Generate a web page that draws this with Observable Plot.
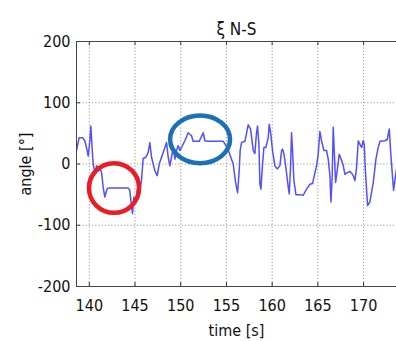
<!DOCTYPE html>
<html>
<head>
<meta charset="utf-8">
<script src="https://cdn.jsdelivr.net/npm/d3@7"></script>
<script src="https://cdn.jsdelivr.net/npm/@observablehq/plot@0.6"></script>
<style>
  html, body { margin: 0; padding: 0; background: #fff; }
  svg { display: block; }
</style>
</head>
<body>
<div id="chart"></div>
<script>
// ξ (N-S) orientation angle over time
const time = [
  138.60, 138.89, 139.26, 139.51, 139.69, 139.88, 140.06, 140.17, 140.28, 140.42,
  140.61, 140.79, 141.08, 141.34, 141.52, 141.70, 141.96, 142.25, 144.25, 144.43,
  144.62, 144.73, 144.87, 145.09, 145.35, 145.53, 145.71, 145.89, 146.19, 146.44,
  146.62, 146.81, 147.17, 147.43, 147.65, 147.90, 148.16, 148.45, 148.63, 148.81,
  148.99, 149.18, 149.36, 149.54, 149.72, 149.91, 150.09, 150.45, 150.82, 151.18,
  151.36, 152.02, 152.46, 152.64, 153.01, 154.65, 154.83, 155.19, 155.74, 156.00,
  156.22, 156.40, 156.50, 156.65, 157.02, 157.38, 157.64, 157.93, 158.11, 158.29,
  158.40, 158.55, 158.66, 158.77, 158.95, 159.10, 159.31, 159.57, 159.68, 159.86,
  160.04, 160.30, 160.55, 160.85, 161.03, 161.14, 161.28, 161.50, 161.76, 161.87,
  162.01, 162.12, 162.23, 162.38, 162.60, 163.03, 163.40, 163.76, 164.13, 164.42,
  164.68, 164.86, 165.04, 165.22, 165.40, 165.66, 165.95, 166.13, 166.32, 166.43,
  166.57, 166.68, 166.79, 166.94, 167.12, 167.34, 167.59, 167.78, 167.96, 168.14,
  168.50, 168.69, 168.87, 169.05, 169.23, 169.42, 169.60, 169.78, 169.96, 170.07,
  170.18, 170.33, 170.44, 170.69, 171.06, 171.35, 171.60, 171.79, 172.33, 172.59,
  172.70, 172.81, 172.95, 173.17, 173.28, 173.54, 173.61
];
const angle = [
   22,  43,  43,  38,  27,  13,  38,  62,  33,   0,
  -14,  -3,  -5, -14, -38, -54, -40, -39, -39, -43,
  -70, -81, -54, -60, -32, -43, -27,   9,  11,  19,
   35,  11, -11, -19,   0,  11,  22,  35,  11,  -3,
   11,  27,   8,  22,  30,  22,  27,  38,  51,  46,
   37,  37,  51,  38,  37,  37,  33,  23,   0, -30,
  -47, -10,  22,  35,  37,  64,  57,  22,  17,  51,
   62,  33, -32, -41,   0,  27,  27,  43,  65,  48,
   22,  -3,  -8,  -3,  22,  24,  17,  -6, -38, -49,
   -6,  51,  22, -27, -50, -50, -51, -41, -33, -32,
  -14,  -3,  16,  53,  38,  22,  22,   8, -19, -62,
  -19,  60,  22, -30, -10,  16,   6,  -3, -17, -15,
  -12, -15, -19, -27,  -6,  38,  32,  27,  38,  32,
   -6, -43, -68, -62, -30,   8,  27,  37,  38,  40,
   49,  57,  22, -22, -43, -14,  -8
];

const xTicks = [140, 145, 150, 155, 160, 165, 170];
const yTicks = [-200, -100, 0, 100, 200];
const xDomain = [138.6, 173.6];
const yDomain = [-200, 200];

// highlighted segments (centre and half-extent in data units)
const ringTime = [142.76, 152.17];
const ringAngle = [-40, 39.5];
const ringHalfTime = [2.74, 3.28];
const ringHalfAngle = [40.6, 39];
const ringColor = ["#ec1c24", "#1b71b8"];

const series = time.map((t, i) => ({time: t, angle: angle[i]}));
const rings = ringTime.map((t, i) => ({
  time: t, angle: ringAngle[i], ht: ringHalfTime[i], ha: ringHalfAngle[i], color: ringColor[i]
}));

const font = "'Liberation Sans Narrow', 'DejaVu Sans Condensed', 'Liberation Sans', sans-serif";

// ellipse outlines placed through the plot's own scales
function ringMark(index, scales) {
  const g = d3.create("svg:g");
  for (const r of rings) {
    const cx = scales.x(r.time), cy = scales.y(r.angle);
    const rx = Math.abs(scales.x(r.time + r.ht) - cx);
    const ry = Math.abs(scales.y(r.angle + r.ha) - cy);
    g.append("ellipse")
      .attr("cx", cx).attr("cy", cy).attr("rx", rx).attr("ry", ry)
      .attr("fill", "none").attr("stroke", r.color).attr("stroke-width", 4.5);
  }
  return g.node();
}

const tickLen = 6.5;      // angle units (~4px)
const tickLenX = 0.45;    // seconds (~4px)

const chart = Plot.plot({
  width: 396,
  height: 341,
  marginLeft: 76,
  marginRight: 0,
  marginTop: 41,
  marginBottom: 55,
  style: {fontFamily: font, fontSize: "16px", color: "#111", background: "#fff"},
  x: {domain: xDomain, label: null},
  y: {domain: yDomain, label: null},
  marks: [
    Plot.gridX(xTicks, {stroke: "#999", strokeOpacity: 1, strokeDasharray: "1.2,2"}),
    Plot.gridY(yTicks, {stroke: "#999", strokeOpacity: 1, strokeDasharray: "1.2,2"}),
    Plot.line(series, {x: "time", y: "angle", stroke: "#5050ff", strokeWidth: 1.5, clip: true}),
    // inward tick marks along the box
    Plot.ruleX(xTicks, {x: d => d, y1: yDomain[0], y2: yDomain[0] + tickLen, stroke: "#333"}),
    Plot.ruleX(xTicks, {x: d => d, y1: yDomain[1], y2: yDomain[1] - tickLen, stroke: "#333"}),
    Plot.ruleY(yTicks, {y: d => d, x1: xDomain[0], x2: xDomain[0] + tickLenX, stroke: "#333"}),
    // box edges
    Plot.ruleX([xDomain[0]], {stroke: "#444"}),
    Plot.ruleY(yDomain, {stroke: "#444"}),
    Plot.axisX(xTicks, {tickSize: 0, tickPadding: 13, fontSize: 16, label: "time [s]", labelArrow: "none", labelAnchor: "center", labelOffset: 49}),
    Plot.axisY(yTicks, {tickSize: 0, tickPadding: 6, fontSize: 16, tickFormat: d => String(d), label: "angle [°]", labelArrow: "none", labelAnchor: "center", labelOffset: 57}),
    Plot.text(["ξ N-S"], {frameAnchor: "top", dy: -19, fontSize: 17}),
    ringMark
  ]
});

document.getElementById("chart").append(chart);
</script>
</body>
</html>
